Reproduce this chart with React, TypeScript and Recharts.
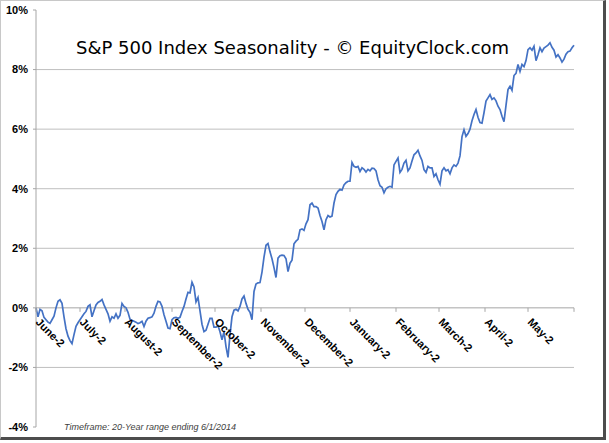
import React from "react";
import { LineChart, Line, XAxis, YAxis, ReferenceLine, ReferenceDot } from "recharts";

// Average seasonal return (%), one value per step from June through May
const seasonalReturn = [
  0.0, -0.3, -0.05, -0.1, -0.32, -0.4, -0.48, -0.52, -0.4, -0.28,
  0.0, 0.22, 0.27, 0.15, -0.3, -0.7, -0.95, -1.1, -1.2, -0.9,
  -0.62, -0.5, -0.4, -0.3, -0.2, -0.12, 0.05, 0.1, -0.3, -0.1,
  0.1, 0.18, 0.22, 0.28, 0.1, -0.05, -0.2, -0.45, -0.3, -0.35,
  -0.2, -0.35, -0.25, 0.15, 0.05, 0.0, -0.15, -0.38, -0.42, -0.45,
  -0.48, -0.53, -0.5, -0.45, -0.63, -0.45, -0.35, -0.33, -0.3, -0.18,
  0.05, 0.22, 0.2, 0.05, -0.23, -0.45, -0.68, -0.7, -0.4, -0.33,
  -0.32, -0.35, -0.32, -0.12, 0.05, 0.3, 0.52, 0.5, 0.86, 0.7,
  0.2, 0.35, -0.1, -0.55, -0.8, -0.75, -0.55, -0.35, -0.35, -0.65,
  -0.65, -0.6, -0.8, -1.07, -0.8, -1.3, -1.66, -0.9, -0.3, -0.08,
  -0.05, -0.1, 0.05, 0.3, 0.4, 0.15, -0.05, -0.15, -0.4, 0.55,
  0.8, 0.84, 0.85, 1.2, 1.7, 2.1, 2.16, 1.88, 1.65, 1.35,
  1.02, 1.67, 1.75, 1.77, 1.76, 1.65, 1.22, 1.5, 1.6, 2.15,
  2.24, 2.3, 2.62, 2.65, 2.6, 2.82, 2.96, 3.46, 3.52, 3.4,
  3.4, 3.35, 3.1, 2.9, 2.62, 2.96, 3.1, 3.05, 3.08, 3.52,
  3.8, 3.91, 3.98, 3.95, 4.13, 4.2, 4.25, 4.25, 4.88, 4.75,
  4.72, 4.75, 4.58, 4.7, 4.65, 4.56, 4.65, 4.6, 4.69, 4.68,
  4.6, 4.3, 4.1, 4.05, 3.86, 4.0, 4.05, 4.08, 4.05, 4.8,
  4.92, 5.03, 4.55, 4.65, 4.86, 4.95, 4.6, 4.7, 4.93, 5.14,
  5.2, 5.29, 5.1, 4.95, 4.64, 4.55, 4.75, 4.7, 4.7, 4.41,
  4.5, 4.3, 4.15, 4.6, 4.7, 4.6, 4.64, 4.5, 4.7, 4.8,
  4.75, 4.86, 5.1, 5.75, 5.98, 5.76, 5.85, 6.0, 6.28, 6.49,
  6.66, 6.4, 6.22, 6.2, 6.55, 6.94, 7.05, 7.16, 7.0, 7.05,
  6.95, 6.77, 6.66, 6.43, 6.25, 6.8, 7.33, 7.44, 7.3, 7.8,
  7.87, 8.17, 7.94, 8.17, 8.1, 8.3, 8.67, 8.73, 8.65, 8.78,
  8.3, 8.5, 8.73, 8.6, 8.72, 8.77, 8.82, 8.9, 8.75, 8.65,
  8.42, 8.5, 8.39, 8.25, 8.35, 8.52, 8.6, 8.62, 8.73, 8.82,
];

const monthLabels = [
  "June-2", "July-2", "August-2", "September-2", "October-2", "November-2",
  "December-2", "January-2", "February-2", "March-2", "April-2", "May-2",
];
// index where each month begins (last entry = end of the year)
const monthStarts = [0, 22, 44.5, 68, 89.5, 112.5, 134.5, 157, 180, 201.5, 224.5, 246, 269];

const yTicks = [-4, -2, 0, 2, 4, 6, 8, 10];
const gridValues = [-2, 2, 4, 6, 8];

const data = seasonalReturn.map((v, i) => ({ day: i, v }));

const AXIS_GREY = "#a6a6a6";
const GRID_GREY = "#bfbfbf";
const LABEL_FONT = "'Liberation Sans', Arial, sans-serif";

function MonthTick(props: any) {
  const { cx, cy, label } = props;
  const tx = cx - 1;
  const ty = cy + 15;
  return (
    <g>
      <line x1={cx} y1={cy} x2={cx} y2={cy + 4} stroke={AXIS_GREY} strokeWidth={1} />
      {label ? (
        <text
          x={tx}
          y={ty}
          transform={`rotate(45 ${tx} ${ty})`}
          textAnchor="start"
          fontFamily={LABEL_FONT}
          fontSize={11}
          fontWeight="bold"
          fill="#000"
        >
          {label}
        </text>
      ) : null}
    </g>
  );
}

export default function App() {
  return (
    <div style={{ position: "absolute", left: 0, top: 0, width: 609, height: 443, background: "#fff" }}>
      <div
        style={{
          position: "absolute",
          left: 0,
          top: 0,
          width: 606,
          height: 440,
          boxSizing: "border-box",
          borderTop: "1px solid #c8c8c8",
          borderLeft: "1px solid #c8c8c8",
          borderRight: "3px solid #4d4d4d",
          borderBottom: "3px solid #4d4d4d",
        }}
      />
      <div style={{ position: "absolute", left: 0, top: 0 }}>
        <LineChart
          width={609}
          height={443}
          data={data}
          margin={{ top: 10, right: 35, bottom: 16, left: 0 }}
        >
          <XAxis dataKey="day" type="number" domain={[0, seasonalReturn.length - 1]} hide />
          <YAxis
            domain={[-4, 10]}
            ticks={yTicks}
            interval={0}
            width={36}
            tickFormatter={(v) => `${v}%`}
            axisLine={{ stroke: AXIS_GREY }}
            tickLine={{ stroke: AXIS_GREY }}
            tickSize={3}
            tickMargin={5}
            tick={{ fontSize: 11, fontWeight: "bold", fill: "#000", fontFamily: LABEL_FONT }}
          />
          {gridValues.map((g) => (
            <ReferenceLine key={g} y={g} stroke={GRID_GREY} strokeWidth={1} />
          ))}
          <ReferenceLine y={0} stroke={AXIS_GREY} strokeWidth={1} />
          {monthStarts.map((m, i) => (
            <ReferenceDot
              key={m}
              x={m}
              y={0}
              ifOverflow="visible"
              shape={(p: any) => <MonthTick {...p} label={monthLabels[i]} />}
            />
          ))}
          <Line
            type="linear"
            dataKey="v"
            stroke="#4472c4"
            strokeWidth={1.7}
            dot={false}
            activeDot={false}
            isAnimationActive={false}
          />
        </LineChart>
      </div>
      <svg
        width={609}
        height={443}
        style={{ position: "absolute", left: 0, top: 0, pointerEvents: "none" }}
      >
        <text x={76} y={53.5} fontFamily="'DejaVu Sans', Verdana, sans-serif" fontSize={18} fill="#000">
          S&amp;P 500 Index Seasonality - © EquityClock.com
        </text>
        <text
          x={64}
          y={430}
          fontFamily={LABEL_FONT}
          fontStyle="italic"
          fontSize={9}
          fill="#404040"
        >
          Timeframe: 20-Year range ending 6/1/2014
        </text>
      </svg>
    </div>
  );
}
